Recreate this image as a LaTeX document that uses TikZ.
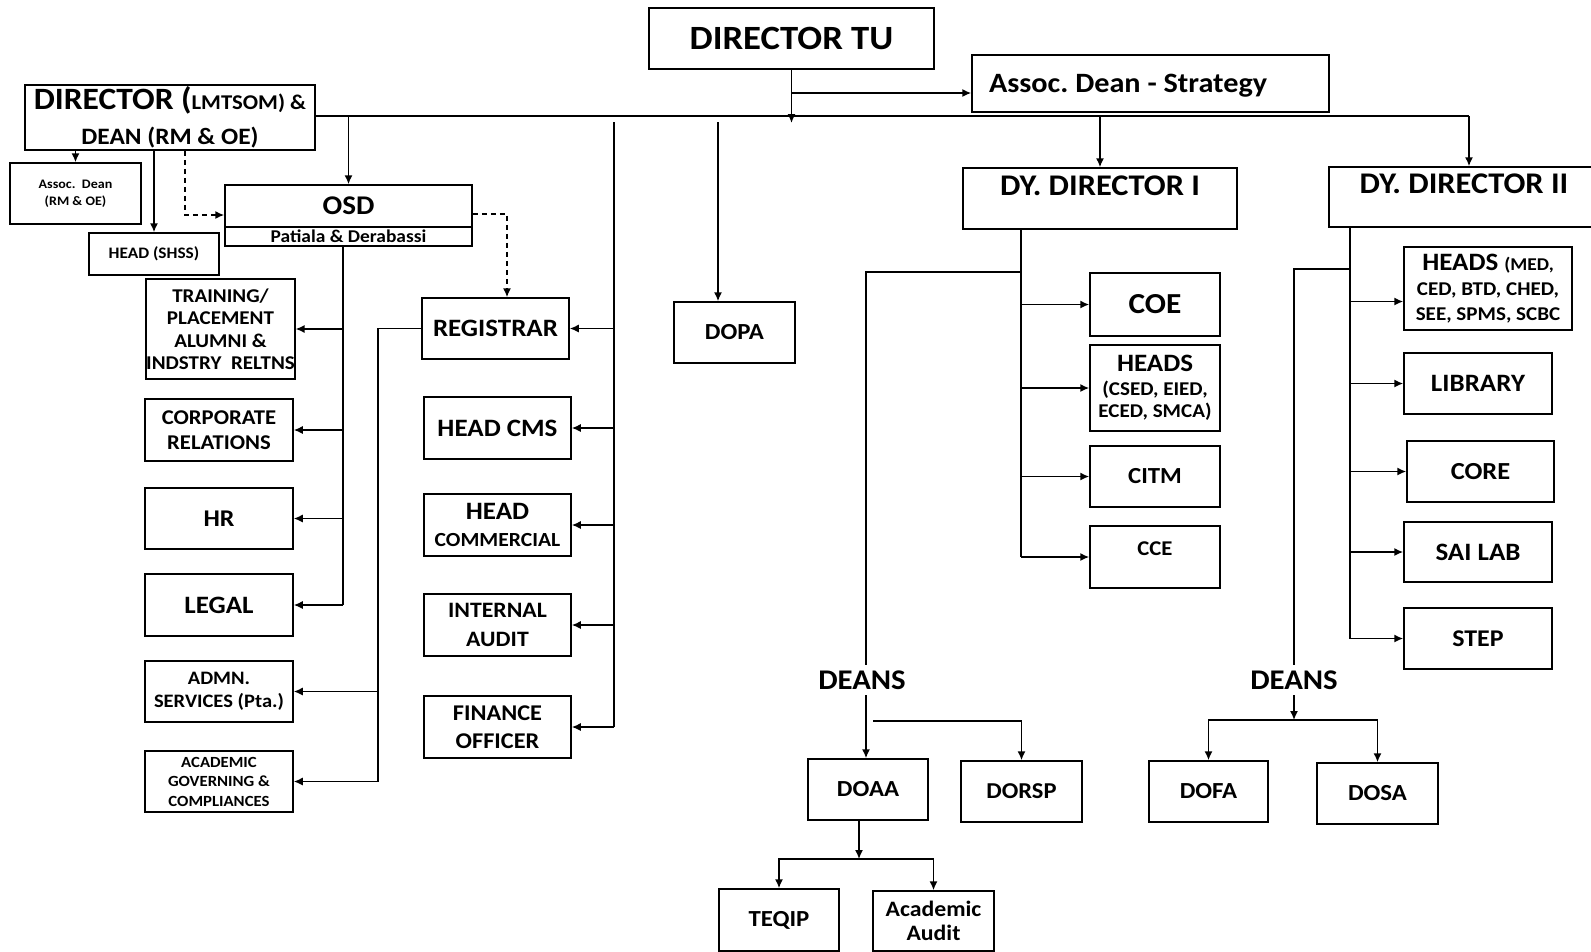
\documentclass[tikz,border=0pt]{standalone}
\usepackage{fontspec}
\setmainfont{Carlito}[FakeStretch=1.08]
\usetikzlibrary{arrows.meta}
\newcommand\fz[2]{\fontsize{#1pt}{#2pt}\selectfont}
\frenchspacing

\begin{document}
\begin{tikzpicture}[x=1pt,y=-1pt,line width=1.5pt,
  box/.style={draw,rectangle,inner sep=0pt,align=center},
  fs/.style 2 args={font=\bfseries\fz{#1}{#2}},
  arr/.style={-{Latex[length=9pt,width=8pt]}},
  dsh/.style={dash pattern=on 5pt off 4pt},
  lbl/.style={inner sep=5pt}]
\useasboundingbox (0,0) rectangle (1591,951);

% top row
\node (dtu) at (791.5,38.5)[box,fs={34}{40},minimum width=285,minimum height=61]{DIRECTOR TU};
\node (ads) at (1150.5,83.5)[box,fs={28}{30},minimum width=357,minimum height=57,text width=323pt,text depth=0pt,align=flush left]{Assoc. Dean - Strategy};
\node (dirlm) at (170,117.5)[box,fs={23.5}{35},minimum width=290,minimum height=65]{\fz{31}{35}DIRECTOR (\fz{21}{35}LMTSOM) \&\\DEAN (RM \& OE)};
\node (adrm) at (75.5,193.5)[box,fs={13}{17},minimum width=131,minimum height=61]{Assoc.\ \ Dean\\(RM \& OE)};
\node (hshss) at (154,254)[box,fs={16}{18},minimum width=130,minimum height=42]{HEAD (SHSS)};
\node (osd) at (348.5,206)[box,fs={27}{30},minimum width=247,minimum height=42]{OSD};
\node (osdp) at (348.5,236.5)[box,fs={18}{19},minimum width=247,minimum height=19]{Patiala \& Derabassi};

% left column
\node (train) at (220.5,329)[box,fs={19.5}{22.5},minimum width=147,minimum height=100]{TRAINING/\\PLACEMENT\\ALUMNI \&\\INDSTRY\ \ RELTNS};
\node (corp) at (219,430)[box,fs={21}{25},minimum width=148,minimum height=62]{CORPORATE\\RELATIONS};
\node (hr) at (219,518.5)[box,fs={24}{26},minimum width=148,minimum height=61]{HR};
\node (legal) at (219,605)[box,fs={25}{26},minimum width=148,minimum height=62]{LEGAL};
\node (admn) at (219,691.5)[box,fs={19}{23},minimum width=148,minimum height=61]{ADMN.\\SERVICES (Pta.)};
\node (acad) at (219,781.5)[box,fs={15.5}{19.5},minimum width=148,minimum height=61]{ACADEMIC\\GOVERNING \&\\COMPLIANCES};

% middle column
\node (reg) at (495.5,328.5)[box,fs={25}{26},minimum width=147,minimum height=61]{REGISTRAR};
\node (cms) at (497.5,428)[box,fs={25}{26},minimum width=147,minimum height=62]{HEAD CMS};
\node (comm) at (497.5,525)[box,fs={20}{27},minimum width=147,minimum height=62]{\fz{25}{27}HEAD\\COMMERCIAL};
\node (audit) at (497.5,625)[box,fs={22}{29},minimum width=147,minimum height=62]{INTERNAL\\AUDIT};
\node (fin) at (497.5,727)[box,fs={22.5}{28},minimum width=147,minimum height=62]{FINANCE\\OFFICER};
\node (dopa) at (734.5,332.5)[box,fs={23}{25},minimum width=121,minimum height=61]{DOPA};

% deputy directors
\node (dy1) at (1100,198.5)[box,fs={30}{34},minimum width=274,minimum height=61,text height=20pt,text depth=27pt]{DY. DIRECTOR I};
\node (dy2) at (1464,197)[box,fs={30}{34},minimum width=270,minimum height=60,text height=20pt,text depth=27pt]{DY. DIRECTOR II};
\node (coe) at (1155,304.5)[box,fs={29}{30},minimum width=130,minimum height=63]{COE};
\node (hd1) at (1155,388)[box,fs={19.5}{22},minimum width=130,minimum height=86]{\fz{25}{22}HEADS\\[2pt](CSED, EIED,\\ECED, SMCA)};
\node (citm) at (1155,476.5)[box,fs={23}{26},minimum width=130,minimum height=61]{CITM};
\node (cce) at (1155,557)[box,fs={21}{22},minimum width=130,minimum height=62,text height=14pt,text depth=18pt]{CCE};
\node (hd2) at (1488,288.5)[box,fs={19.5}{25},minimum width=168,minimum height=83]{\fz{25}{25}HEADS \fz{18}{25}(MED,\\CED, BTD, CHED,\\SEE, SPMS, SCBC};
\node (lib) at (1478,383.5)[box,fs={25}{26},minimum width=148,minimum height=61]{LIBRARY};
\node (core) at (1480.5,471.5)[box,fs={24.5}{26},minimum width=147,minimum height=61]{CORE};
\node (sai) at (1478,552)[box,fs={25}{26},minimum width=148,minimum height=60]{SAI LAB};
\node (stp) at (1478,638.5)[box,fs={24}{26},minimum width=148,minimum height=61]{STEP};

% deans
\node (deans1) at (862,680)[lbl,fs={28.5}{30}]{DEANS};
\node (deans2) at (1294,680)[lbl,fs={28.5}{30}]{DEANS};
\node (doaa) at (868,789.5)[box,fs={23}{25},minimum width=120,minimum height=61]{DOAA};
\node (dorsp) at (1021.5,791.5)[box,fs={22.7}{25},minimum width=121,minimum height=61]{DORSP};
\node (dofa) at (1208.5,791.5)[box,fs={23}{25},minimum width=119,minimum height=61]{DOFA};
\node (dosa) at (1377.5,793.5)[box,fs={23}{25},minimum width=121,minimum height=61]{DOSA};
\node (teqip) at (779,920)[box,fs={23}{24},minimum width=120,minimum height=62]{TEQIP};
\node (aud) at (933.5,921)[box,fs={22}{24},minimum width=121,minimum height=60]{Academic\\Audit};

% bus and top links
\coordinate (bus) at (1469,116);
\coordinate (hub) at (795,123);
\coordinate (s1) at (795,93);
\draw (dirlm.east |- bus) -- (bus);
\draw[arr] (dtu.south) -- (dtu.south |- hub);
\draw[arr] (dtu.south |- s1) -- (ads.west |- s1);
\draw[arr] (osd.north |- bus) -- (osd.north);
\draw[arr] (dy1.north |- bus) -- (dy1.north);
\draw[arr] (bus) -- (dy2.north -| bus);
\draw[arr] (adrm.north |- dirlm.south) -- (adrm.north);
\draw[arr] (hshss.north |- dirlm.south) -- (hshss.north);

% dashed links
\coordinate (d1) at (185,215);
\coordinate (d2) at (507,214);
\draw[arr,dsh] (dirlm.south -| d1) -- (d1) -- (osd.west |- d1);
\draw[arr,dsh] (osd.east |- d2) -- (d2) -- (reg.north -| d2);

% OSD branch
\coordinate (o1) at (343,0);
\draw (osdp.south -| o1) -- (legal.east -| o1);
\foreach \b in {train,corp,hr,legal}
  \draw[arr] (\b.east -| o1) -- (\b.east);

% registrar branch
\coordinate (r1) at (378,0);
\draw (reg.west) -- (reg.west -| r1) -- (acad.east -| r1);
\foreach \b in {admn,acad}
  \draw[arr] (\b.east -| r1) -- (\b.east);

% finance line
\coordinate (r2) at (614,122);
\draw (r2) -- (fin.east -| r2);
\foreach \b in {reg,cms,comm,audit,fin}
  \draw[arr] (\b.east -| r2) -- (\b.east);

\coordinate (p1) at (718,122);
\draw[arr] (p1) -- (dopa.north -| p1);

% deputy director I
\coordinate (v1) at (1021,0);
\draw (dy1.south -| v1) -- (cce.west -| v1);
\foreach \b in {coe,hd1,citm,cce}
  \draw[arr] (\b.west -| v1) -- (\b.west);
\coordinate (k1) at (866,272);
\draw (k1 -| v1) -- (k1) -- (deans1.north -| k1);
\draw[arr] (deans1.south -| k1) -- (doaa.north -| k1);
\coordinate (k2) at (873,721);
\draw[arr] (k2) -| (dorsp.north);
\coordinate (k3) at (859,859);
\draw[arr] (doaa.south -| k3) -- (k3);
\draw[arr] (k3) -| (teqip.north);
\draw[arr] (k3) -| (aud.north);

% deputy director II
\coordinate (v2) at (1350,0);
\coordinate (h2) at ([yshift=-13pt]hd2.west);
\draw (dy2.south -| v2) -- (stp.west -| v2);
\draw[arr] (h2 -| v2) -- (h2);
\foreach \b in {lib,core,sai,stp}
  \draw[arr] (\b.west -| v2) -- (\b.west);
\coordinate (k4) at (1294,269);
\draw (k4 -| v2) -- (k4) -- (deans2.north -| k4);
\coordinate (k5) at (1294,720);
\draw[arr] (deans2.south -| k5) -- (k5);
\draw[arr] (k5) -| (dofa.north);
\draw[arr] (k5) -| (dosa.north);
\end{tikzpicture}
\end{document}
